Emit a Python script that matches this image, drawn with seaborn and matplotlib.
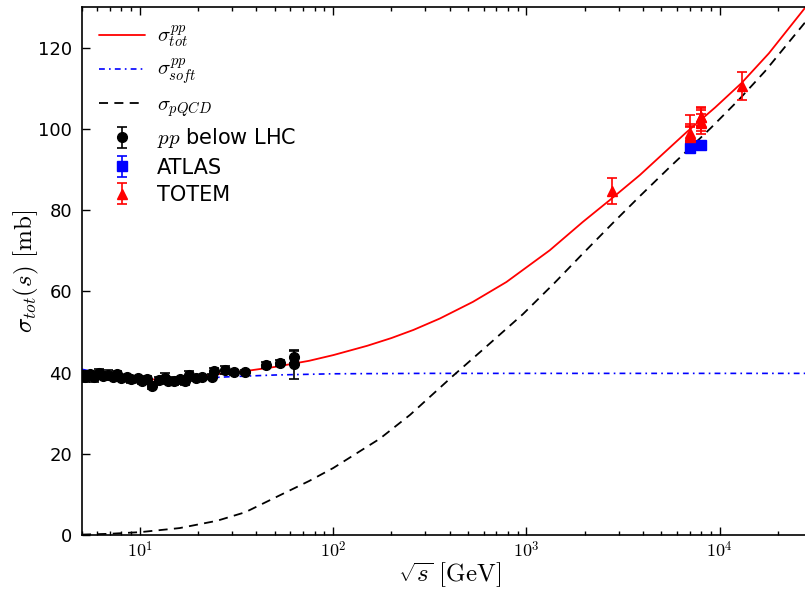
import matplotlib
matplotlib.use('Agg')
import numpy as np
import pandas as pd
import seaborn as sns
import matplotlib.pyplot as plt
from matplotlib.ticker import LogLocator, NullFormatter, FuncFormatter, MultipleLocator

# ------------------------------------------------
# curves (sqrt(s) in GeV, sigma in mb)
# ------------------------------------------------
tot_sqrt_s = [5, 6, 7.8, 10, 12, 16, 22, 35.5, 50, 75, 100, 150, 200, 260, 356, 528, 788,
              1320, 1960, 2690, 3860, 6750, 9500, 13000, 18000, 27700, 32000]
tot_sigma = [40.6, 39.6, 38.7, 38.4, 38.3, 38.7, 39.3, 40.4, 41.4, 42.9, 44.3, 46.6, 48.5, 50.5,
             53.3, 57.4, 62.3, 70.1, 77.1, 82.4, 88.6, 99.2, 105.3, 111.3, 118.6, 129.8, 133.0]

soft_sqrt_s = [5, 6, 7, 8.5, 10, 14, 20, 30, 50, 100, 300, 1000, 32000]
soft_sigma = [40.8, 40.0, 39.5, 39.0, 38.7, 38.4, 38.6, 39.0, 39.4, 39.7, 39.8, 39.8, 39.8]

pqcd_sqrt_s = [5, 7, 10, 16, 25, 35, 53, 75, 100, 174, 250, 417, 600, 960, 1400, 1960,
               2800, 3860, 5500, 6750, 9000, 12600, 17200, 27700, 32000]
pqcd_sigma = [0.1, 0.3, 0.7, 1.7, 3.5, 5.6, 9.8, 13.3, 16.5, 23.7, 29.6, 39.2, 45.8, 54.4, 62.1,
              69.3, 76.8, 83.4, 90.5, 94.5, 100.2, 107.2, 114.2, 126.2, 129.5]

# ------------------------------------------------
# data points
# ------------------------------------------------
pp_sqrt_s = [5.0, 5.2, 5.5, 5.8, 6.1, 6.4, 6.8, 7.2, 7.6, 8.0, 8.5, 9.0, 9.7, 10.2, 10.8, 11.5,
             12.5, 13.5, 14.0, 15.0, 16.0, 17.0, 18.0, 19.4, 21.0, 23.5, 24.2, 27.4, 30.6, 35.0,
             44.6, 52.8, 62.3, 62.7]
pp_sigma = [39.3, 38.8, 39.6, 38.9, 39.8, 39.2, 39.5, 39.0, 39.7, 38.6, 38.9, 38.3, 38.7, 38.0,
            38.4, 36.8, 38.2, 38.6, 38.0, 37.8, 38.3, 37.9, 39.4, 38.6, 38.9, 39.0, 40.4, 40.6,
            40.1, 40.2, 41.9, 42.4, 43.9, 42.0]
pp_err = [1.0, 1.2, 0.8, 1.3, 1.0, 0.8, 1.2, 0.9, 0.7, 0.8, 0.6, 0.9, 0.5, 0.8, 0.7, 0.8, 0.6,
          1.2, 0.9, 0.8, 0.7, 0.9, 1.0, 0.6, 0.5, 0.6, 0.8, 1.0, 0.6, 0.5, 0.8, 0.7, 1.5, 3.6]

atlas_sqrt_s = [7000, 8000]
atlas_sigma = [95.35, 96.07]
atlas_err = [1.36, 0.92]

totem_sqrt_s = [2760, 7000, 7000, 7000, 7000, 8000, 8000, 8000, 8000, 13000]
totem_sigma = [84.7, 98.3, 98.58, 99.1, 98.0, 101.7, 101.5, 102.9, 103.0, 110.6]
totem_err = [3.3, 2.8, 2.23, 4.3, 2.5, 2.9, 2.1, 2.3, 2.3, 3.4]

# ------------------------------------------------
# plot
# ------------------------------------------------
sns.set_style('ticks')
plt.rcParams['font.family'] = ['DejaVu Sans']
plt.rcParams['mathtext.fontset'] = 'cm'
for key in ['text.color', 'axes.labelcolor', 'xtick.color', 'ytick.color', 'axes.edgecolor']:
    plt.rcParams[key] = 'black'

fig = plt.figure(figsize=(8.05, 5.92), dpi=100)
# right edge of the axes sits just outside the canvas, like the cropped original
ax = fig.add_axes([0.1019, 0.0963, 1.015 - 0.1019, 0.988 - 0.0963])
ax.set_xscale('log')

sns.lineplot(x=tot_sqrt_s, y=tot_sigma, ax=ax, color='red', linewidth=1.3,
             label=r'$\sigma^{pp}_{tot}$', estimator=None)
sns.lineplot(x=soft_sqrt_s, y=soft_sigma, ax=ax, color='blue', linewidth=1.2,
             linestyle=(0, (3.5, 2.5, 1, 2.5)), label=r'$\sigma^{pp}_{soft}$', estimator=None)
sns.lineplot(x=pqcd_sqrt_s, y=pqcd_sigma, ax=ax, color='black', linewidth=1.3,
             linestyle=(0, (5, 3.5)), label=r'$\sigma_{pQCD}$', estimator=None)

ax.errorbar(pp_sqrt_s, pp_sigma, yerr=pp_err, fmt='o', color='black', ms=7,
            capsize=3.5, elinewidth=1.2, capthick=1.2, label=r'$pp$ below LHC')
ax.errorbar(atlas_sqrt_s, atlas_sigma, yerr=atlas_err, fmt='s', color='blue', ms=6.5,
            capsize=3.5, elinewidth=1.2, capthick=1.2, label='ATLAS')
ax.errorbar(totem_sqrt_s, totem_sigma, yerr=totem_err, fmt='^', color='red', ms=7,
            capsize=3.5, elinewidth=1.2, capthick=1.2, label='TOTEM')

ax.set_xlim(5, 3.2e4)
ax.set_ylim(0, 130)
ax.yaxis.set_major_locator(MultipleLocator(20))
ax.xaxis.set_major_locator(LogLocator(base=10, numticks=10))
ax.xaxis.set_minor_locator(LogLocator(base=10, subs=np.arange(2, 10), numticks=20))
ax.xaxis.set_minor_formatter(NullFormatter())
ax.xaxis.set_major_formatter(FuncFormatter(lambda v, p: r'$10^{%d}$' % round(np.log10(v))))

ax.tick_params(which='both', top=True, right=True, direction='in', width=1.0)
ax.tick_params(which='major', length=6, labelsize=13)
ax.tick_params(axis='x', which='major', pad=4)
ax.tick_params(axis='y', which='major', pad=7)
ax.tick_params(which='minor', length=3)
for s in ax.spines.values():
    s.set_linewidth(1.2)

ax.set_xlabel(r'$\sqrt{s}\ [\mathrm{GeV}]$', fontsize=18, labelpad=0)
ax.set_ylabel(r'$\sigma_{tot}(s)\ [\mathrm{mb}]$', fontsize=18, labelpad=-2)

ax.legend(loc='upper left', frameon=False, fontsize=15, handlelength=2.2, handletextpad=0.6,
          labelspacing=0.35, borderaxespad=0.4, numpoints=1)

plt.savefig('out.png', dpi=100)
